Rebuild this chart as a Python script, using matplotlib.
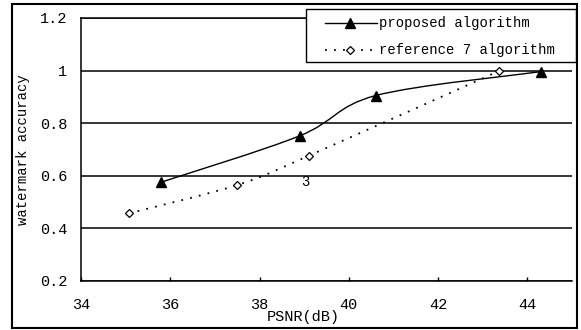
import numpy as np
import matplotlib
matplotlib.use("Agg")
import matplotlib.pyplot as plt
from matplotlib.path import Path
from matplotlib.patches import PathPatch, Rectangle

# data
prop_psnr = [35.8, 38.9, 40.6, 44.3]
prop_acc = [0.576, 0.752, 0.905, 0.996]
ref_psnr = [35.07, 37.5, 39.1, 43.36]
ref_acc = [0.457, 0.565, 0.676, 0.998]
labels = ["proposed algorithm", "reference 7 algorithm"]
xticks = [34, 36, 38, 40, 42, 44]
yticks = [0.2, 0.4, 0.6, 0.8, 1.0, 1.2]
ytick_labels = ["0.2", "0.4", "0.6", "0.8", "1", "1.2"]
point_note = "3"
note_pos = (39.03, 0.575)

mono = "Liberation Mono"


def smooth_path(xs, ys):
    # excel style smoothed line: bezier through the points
    pts = np.column_stack([xs, ys])
    p = np.vstack([pts[0], pts, pts[-1]])
    verts = [pts[0]]
    codes = [Path.MOVETO]
    for i in range(len(pts) - 1):
        p0, p1, p2, p3 = p[i], p[i + 1], p[i + 2], p[i + 3]
        verts += [p1 + (p2 - p0) / 6, p2 - (p3 - p1) / 6, p2]
        codes += [Path.CURVE4] * 3
    return Path(verts, codes)


fig = plt.figure(figsize=(5.81, 3.30), dpi=100)
ax = fig.add_axes([81 / 581, 49 / 330, 491 / 581, 263 / 330])

# outer chart border
fig.patches.append(Rectangle((12 / 581, 2 / 330), 565 / 581, 324 / 330,
                             transform=fig.transFigure, fill=False,
                             edgecolor="black", lw=1.5))

ax.set_xlim(34, 45)
ax.set_ylim(0.2, 1.2)

ax.add_patch(PathPatch(smooth_path(prop_psnr, prop_acc), fill=False,
                       edgecolor="black", lw=1.0, zorder=3))
ax.add_patch(PathPatch(smooth_path(ref_psnr, ref_acc), fill=False,
                       edgecolor="black", lw=1.3, linestyle=(0, (1, 4)),
                       zorder=3))
ax.plot(prop_psnr, prop_acc, linestyle="none", marker="^", ms=7,
        color="black", zorder=4, clip_on=False)
ax.plot(ref_psnr, ref_acc, linestyle="none", marker="D", ms=4.5,
        mfc="white", mec="black", mew=0.9, zorder=4, clip_on=False)

ax.text(note_pos[0], note_pos[1], point_note, ha="center", va="center",
        family=mono, fontsize=10)

ax.set_yticks(yticks)
ax.set_yticklabels(ytick_labels)
ax.set_xticks(xticks)
ax.tick_params(axis="x", direction="in", length=3, width=1, pad=12,
               labelsize=11)
ax.tick_params(axis="y", length=0, pad=10, labelsize=11)
for t in ax.get_xticklabels() + ax.get_yticklabels():
    t.set_family(mono)

ax.yaxis.grid(True, color="black", lw=1.1)
ax.set_axisbelow(True)
ax.spines["right"].set_visible(False)
for s in ["left", "bottom", "top"]:
    ax.spines[s].set_linewidth(1.1)

ax.set_xlabel("PSNR(dB)", family=mono, fontsize=11)
ax.xaxis.set_label_coords(0.452, -0.11)
ax.set_ylabel("watermark accuracy", family=mono, fontsize=10)
ax.yaxis.set_label_coords(-0.104, 0.5)

# legend box drawn by hand to match the layout
tr = ax.transAxes
ax.add_patch(Rectangle((0.458, 0.833), 0.55, 0.201, transform=tr,
                       facecolor="white", edgecolor="black", lw=1.0,
                       clip_on=False, zorder=5))
rows = [0.981, 0.878]
ax.plot([0.497, 0.603], [rows[0]] * 2, transform=tr, color="black",
        lw=1.0, clip_on=False, zorder=6)
ax.plot([0.548], [rows[0]], transform=tr, marker="^", ms=7,
        color="black", clip_on=False, zorder=7)
ax.plot([0.497, 0.603], [rows[1]] * 2, transform=tr, color="black",
        lw=1.3, linestyle=(0, (1, 4)), clip_on=False, zorder=6)
ax.plot([0.548], [rows[1]], transform=tr, marker="D", ms=4.5, mfc="white",
        mec="black", mew=0.9, clip_on=False, zorder=7)
for lab, y in zip(labels, rows):
    ax.text(0.607, y, lab, transform=tr, va="center", ha="left",
            family=mono, fontsize=10, zorder=7)

fig.savefig("out.png", dpi=100)
